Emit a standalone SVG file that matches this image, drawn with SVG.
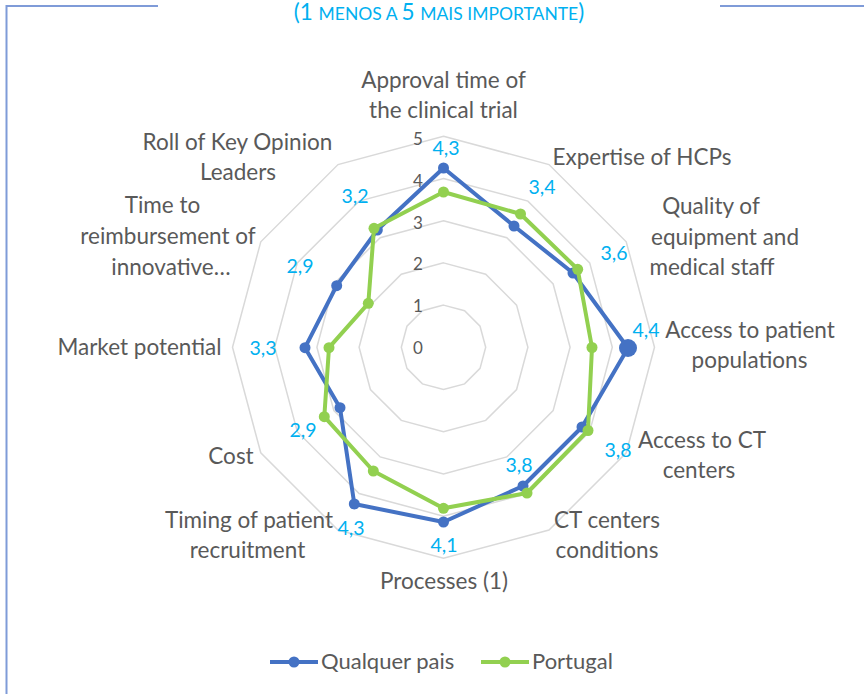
<svg xmlns="http://www.w3.org/2000/svg" width="864" height="694" viewBox="0 0 864 694">
<style>
.cat{font-family:Lato,"Liberation Sans",sans-serif;font-size:22.5px;fill:#595959;text-anchor:middle}
.val{font-family:Lato,"Liberation Sans",sans-serif;font-size:19.5px;fill:#00B0F0;text-anchor:middle}
.tick{font-family:Lato,"Liberation Sans",sans-serif;font-size:17px;fill:#595959;text-anchor:middle}
.leg{font-family:Lato,"Liberation Sans",sans-serif;font-size:22px;fill:#595959}
.grid{fill:none;stroke:#D9D9D9;stroke-width:1.5}
.sb{fill:none;stroke:#4472C4;stroke-width:4;stroke-linejoin:round}
.sg{fill:none;stroke:#92D050;stroke-width:4;stroke-linejoin:round}
.mb{fill:#4472C4}
.mg{fill:#92D050}
.frame{stroke:#7F9BD8;stroke-width:2;fill:none}
</style>
<rect width="864" height="694" fill="#FFFFFF"/>
<g id="frame">
<path class="frame" d="M6.5,694 V6 H158"/>
<path class="frame" d="M720,6 H864"/>
</g>
<text id="title" x="439" y="20" font-family="Lato,'Liberation Sans',sans-serif" fill="#00B0F0" text-anchor="middle"><tspan font-size="22.5">(1 </tspan><tspan font-size="17.5">MENOS A </tspan><tspan font-size="22.5">5 </tspan><tspan font-size="17.5">MAIS IMPORTANTE</tspan><tspan font-size="22.5">)</tspan></text>
<g id="grid">
<polygon class="grid" points="443.5,305.1 464.6,310.75 480.05,326.2 485.7,347.3 480.05,368.4 464.6,383.85 443.5,389.5 422.4,383.85 406.95,368.4 401.3,347.3 406.95,326.2 422.4,310.75"/>
<polygon class="grid" points="443.5,262.9 485.7,274.21 516.59,305.1 527.9,347.3 516.59,389.5 485.7,420.39 443.5,431.7 401.3,420.39 370.41,389.5 359.1,347.3 370.41,305.1 401.3,274.21"/>
<polygon class="grid" points="443.5,220.7 506.8,237.66 553.14,284 570.1,347.3 553.14,410.6 506.8,456.94 443.5,473.9 380.2,456.94 333.86,410.6 316.9,347.3 333.86,284 380.2,237.66"/>
<polygon class="grid" points="443.5,178.5 527.9,201.12 589.68,262.9 612.3,347.3 589.68,431.7 527.9,493.48 443.5,516.1 359.1,493.48 297.32,431.7 274.7,347.3 297.32,262.9 359.1,201.12"/>
<polygon class="grid" points="443.5,136.3 549,164.57 626.23,241.8 654.5,347.3 626.23,452.8 549,530.03 443.5,558.3 338,530.03 260.77,452.8 232.5,347.3 260.77,241.8 338,164.57"/>
</g>
<g id="ticks">
<text class="tick" x="418" y="354">0</text>
<text class="tick" x="418" y="312">1</text>
<text class="tick" x="418" y="270">2</text>
<text class="tick" x="418" y="228.5">3</text>
<text class="tick" x="418" y="187">4</text>
<text class="tick" x="418" y="145">5</text>
</g>
<g id="categories">
<text class="cat" x="443.5" y="88">Approval time of</text>
<text class="cat" x="443.5" y="118">the clinical trial</text>
<text class="cat" x="642" y="165">Expertise of HCPs</text>
<text class="cat" x="711" y="214">Quality of</text>
<text class="cat" x="725" y="245">equipment and</text>
<text class="cat" x="712" y="275">medical staff</text>
<text class="cat" x="750" y="338">Access to patient</text>
<text class="cat" x="749.5" y="368">populations</text>
<text class="cat" x="702" y="448">Access to CT</text>
<text class="cat" x="699" y="478">centers</text>
<text class="cat" x="607" y="528">CT centers</text>
<text class="cat" x="607" y="558">conditions</text>
<text class="cat" x="444" y="589">Processes (1)</text>
<text class="cat" x="249" y="528">Timing of patient</text>
<text class="cat" x="247.5" y="558">recruitment</text>
<text class="cat" x="231" y="464">Cost</text>
<text class="cat" x="139.5" y="355">Market potential</text>
<text class="cat" x="162.5" y="213">Time to</text>
<text class="cat" x="168" y="244">reimbursement of</text>
<text class="cat" x="171" y="275">innovative…</text>
<text class="cat" x="237.5" y="150">Roll of Key Opinion</text>
<text class="cat" x="238" y="180">Leaders</text>
</g>
<g id="series-qualquer-pais">
<polygon class="sb" points="443.5,168 514,226 573,273 628,348 582,427 523,486 443.5,522 354.3,504 340,407.7 305,347.7 336.7,285.7 377.3,230"/>
<circle class="mb" cx="443.5" cy="168" r="5.5"/>
<circle class="mb" cx="514" cy="226" r="5.5"/>
<circle class="mb" cx="573" cy="273" r="5.5"/>
<circle class="mb" cx="628" cy="348" r="9"/>
<circle class="mb" cx="582" cy="427" r="5.5"/>
<circle class="mb" cx="523" cy="486" r="5.5"/>
<circle class="mb" cx="443.5" cy="522" r="5.5"/>
<circle class="mb" cx="354.3" cy="504" r="5.5"/>
<circle class="mb" cx="340" cy="407.7" r="5.5"/>
<circle class="mb" cx="305" cy="347.7" r="5.5"/>
<circle class="mb" cx="336.7" cy="285.7" r="5.5"/>
<circle class="mb" cx="377.3" cy="230" r="5.5"/>
</g>
<g id="series-portugal">
<polygon class="sg" points="443.5,192 520.5,214 577.7,269.3 592,347.5 588,430.5 527,493 443.5,508.3 373.3,471 324.3,416.7 329,347.7 368.3,303.3 374,228.3"/>
<circle class="mg" cx="443.5" cy="192" r="5.5"/>
<circle class="mg" cx="520.5" cy="214" r="5.5"/>
<circle class="mg" cx="577.7" cy="269.3" r="5.5"/>
<circle class="mg" cx="592" cy="347.5" r="5.5"/>
<circle class="mg" cx="588" cy="430.5" r="5.5"/>
<circle class="mg" cx="527" cy="493" r="5.5"/>
<circle class="mg" cx="443.5" cy="508.3" r="5.5"/>
<circle class="mg" cx="373.3" cy="471" r="5.5"/>
<circle class="mg" cx="324.3" cy="416.7" r="5.5"/>
<circle class="mg" cx="329" cy="347.7" r="5.5"/>
<circle class="mg" cx="368.3" cy="303.3" r="5.5"/>
<circle class="mg" cx="374" cy="228.3" r="5.5"/>
</g>
<g id="data-labels">
<text class="val" x="446" y="155">4,3</text>
<text class="val" x="542" y="194">3,4</text>
<text class="val" x="614" y="260">3,6</text>
<text class="val" x="646" y="337" font-size="22">4,4</text>
<text class="val" x="618" y="457">3,8</text>
<text class="val" x="519" y="472">3,8</text>
<text class="val" x="444" y="552">4,1</text>
<text class="val" x="351" y="535">4,3</text>
<text class="val" x="303" y="437">2,9</text>
<text class="val" x="263" y="355">3,3</text>
<text class="val" x="300" y="273">2,9</text>
<text class="val" x="355" y="203">3,2</text>
</g>
<g id="legend">
<line x1="270" y1="662" x2="318" y2="662" stroke="#4472C4" stroke-width="4"/>
<circle class="mb" cx="294" cy="662" r="5.5"/>
<text class="leg" x="321" y="669">Qualquer pais</text>
<line x1="481" y1="662" x2="529" y2="662" stroke="#92D050" stroke-width="4"/>
<circle class="mg" cx="505" cy="662" r="5.5"/>
<text class="leg" x="532" y="669">Portugal</text>
</g>
</svg>
